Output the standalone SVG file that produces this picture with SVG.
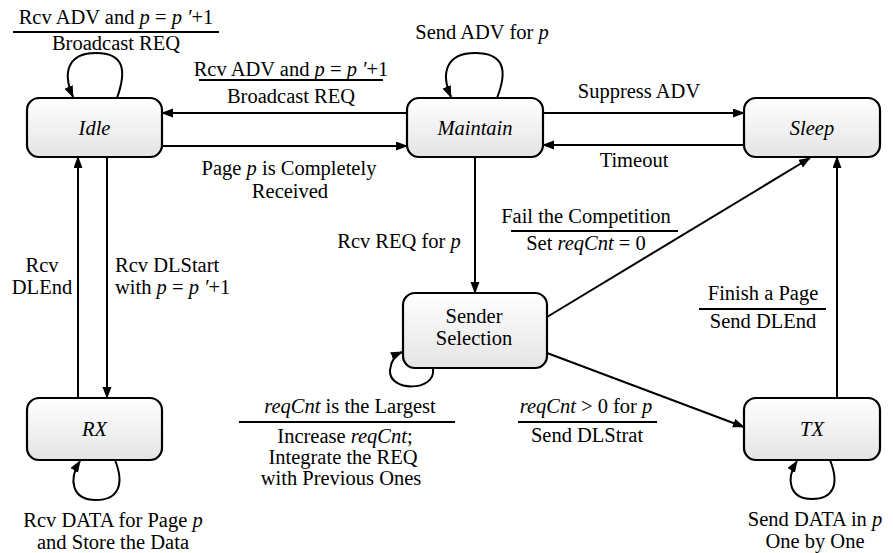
<svg xmlns="http://www.w3.org/2000/svg" width="893" height="553" viewBox="0 0 893 553" font-family="'Liberation Serif', 'Times New Roman', 'DejaVu Serif', serif">
<defs>
<linearGradient id="g" x1="0" y1="0" x2="0" y2="1">
<stop offset="0" stop-color="#ffffff"/>
<stop offset="1" stop-color="#e4e4e4"/>
</linearGradient>
<marker id="ah" markerUnits="userSpaceOnUse" markerWidth="12" markerHeight="10" refX="11" refY="4.5" orient="auto">
<path d="M0,0 L12,4.5 L0,9 z" fill="#000"/>
</marker>
</defs>
<style>
.box{fill:url(#g);stroke:#000;stroke-width:2.2}
.t{font-family:'Liberation Serif','Times New Roman','DejaVu Serif',serif;font-size:20.5px;fill:#000;text-anchor:middle}
.l{text-anchor:start}
.i{font-style:italic}
.c{fill:none;stroke:#000;stroke-width:2;marker-end:url(#ah)}
.bar{stroke:#000;stroke-width:2}
</style>
<rect width="893" height="553" fill="#fff"/>

<g id="connectors">
<path class="c" d="M117,98 C127,70 124,53 96,53 C68,53 62,72 73,97"/>
<path class="c" d="M497,98 C508,70 504,53 475,53 C447,53 440,72 451,97"/>
<path class="c" d="M115,460 C125,485 118,500 96,500 C72,500 68,480 80,461"/>
<path class="c" d="M830,460 C840,485 833,499 812,499 C790,499 785,480 797,461"/>
<path class="c" d="M433,369 C436,392 388,392 390,370 C391,360 395,355 402,352"/>
<path class="c" d="M407,113 L162,113"/>
<path class="c" d="M162,146 L407,146"/>
<path class="c" d="M543,113 L744,113"/>
<path class="c" d="M744,145 L543,145"/>
<path class="c" d="M475,157 L475,293"/>
<path class="c" d="M547,317 L810,158"/>
<path class="c" d="M547,353 L744,427"/>
<path class="c" d="M837,398 L837,157"/>
<path class="c" d="M78,398 L78,157"/>
<path class="c" d="M107,157 L107,398"/>
</g>

<g id="labels" font-family="'Liberation Serif', 'Times New Roman', 'DejaVu Serif', serif">
<text class="t" x="116" y="24">Rcv ADV and <tspan class="i">p</tspan> = <tspan class="i">p ′</tspan>+1</text>
<line class="bar" x1="13" y1="32" x2="219" y2="32"/>
<text class="t" x="116" y="50">Broadcast REQ</text>

<text class="t" x="291" y="76">Rcv ADV and <tspan class="i">p</tspan> = <tspan class="i">p ′</tspan>+1</text>
<line class="bar" x1="199" y1="80" x2="383" y2="80"/>
<text class="t" x="291" y="103">Broadcast REQ</text>

<text class="t" x="289" y="175">Page <tspan class="i">p</tspan> is Completely</text>
<text class="t" x="290" y="198">Received</text>

<text class="t" x="482" y="39">Send ADV for <tspan class="i">p</tspan></text>
<text class="t" x="639" y="98">Suppress ADV</text>
<text class="t" x="634" y="167">Timeout</text>

<text class="t" x="399" y="248">Rcv REQ for <tspan class="i">p</tspan></text>

<text class="t" x="42" y="272">Rcv</text>
<text class="t" x="42" y="294">DLEnd</text>
<text class="t l" x="115" y="272">Rcv DLStart</text>
<text class="t l" x="115" y="294">with <tspan class="i">p</tspan> = <tspan class="i">p ′</tspan>+1</text>

<text class="t" x="586" y="223">Fail the Competition</text>
<line class="bar" x1="511" y1="231" x2="678" y2="231"/>
<text class="t" x="586" y="250">Set <tspan class="i">reqCnt</tspan> = 0</text>

<text class="t" x="763" y="300">Finish a Page</text>
<line class="bar" x1="699" y1="309" x2="826" y2="309"/>
<text class="t" x="763" y="328">Send DLEnd</text>

<text class="t" x="350" y="413"><tspan class="i">reqCnt</tspan> is the Largest</text>
<line class="bar" x1="239" y1="422" x2="455" y2="422"/>
<text class="t" x="345" y="443">Increase <tspan class="i">reqCnt</tspan>;</text>
<text class="t" x="343" y="464">Integrate the REQ</text>
<text class="t" x="341" y="485">with Previous Ones</text>

<text class="t" x="586" y="413"><tspan class="i">reqCnt</tspan> &gt; 0 for <tspan class="i">p</tspan></text>
<line class="bar" x1="518" y1="422" x2="657" y2="422"/>
<text class="t" x="587" y="442">Send DLStrat</text>

<text class="t" x="113" y="527">Rcv DATA for Page <tspan class="i">p</tspan></text>
<text class="t" x="113" y="549">and Store the Data</text>

<text class="t" x="815" y="526">Send DATA in <tspan class="i">p</tspan></text>
<text class="t" x="815" y="548">One by One</text>
</g>

<g id="idle"><rect class="box" x="27" y="98" width="135" height="59" rx="12"/><text class="t i" x="94.5" y="135">Idle</text></g>
<g id="maintain"><rect class="box" x="407" y="98" width="136" height="59" rx="12"/><text class="t i" x="475" y="135">Maintain</text></g>
<g id="sleep"><rect class="box" x="744" y="98" width="136" height="59" rx="12"/><text class="t i" x="812" y="135">Sleep</text></g>
<g id="sender"><rect class="box" x="403" y="293" width="144" height="75" rx="12"/><text class="t" x="474" y="323">Sender</text><text class="t" x="474" y="345">Selection</text></g>
<g id="rx"><rect class="box" x="27" y="398" width="135" height="62" rx="12"/><text class="t i" x="94.5" y="436">RX</text></g>
<g id="tx"><rect class="box" x="744" y="398" width="136" height="62" rx="12"/><text class="t i" x="812" y="436">TX</text></g>
</svg>
